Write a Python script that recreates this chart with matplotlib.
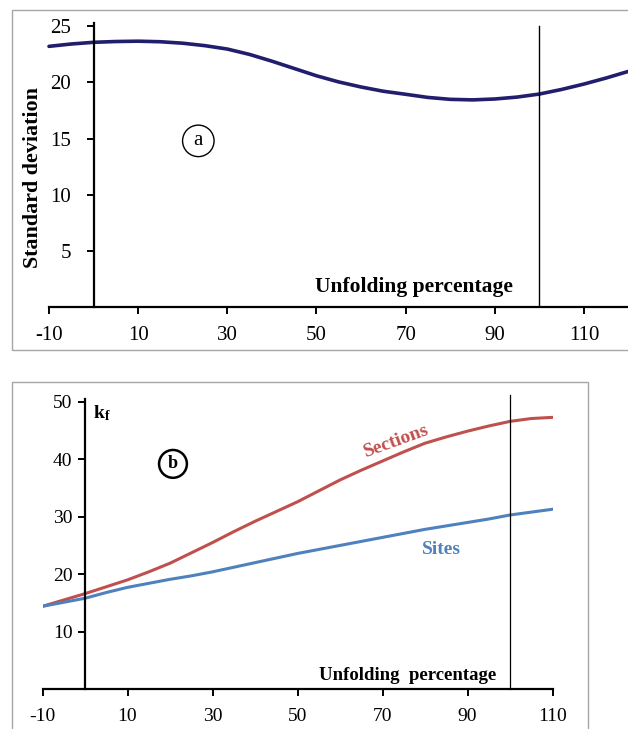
import matplotlib
matplotlib.use("Agg")
import matplotlib.pyplot as plt
from matplotlib.patches import Rectangle

plt.rcParams['font.family'] = ['Liberation Serif', 'DejaVu Serif']
plt.rcParams['mathtext.fontset'] = 'custom'
plt.rcParams['mathtext.rm'] = 'Liberation Serif'
plt.rcParams['mathtext.bf'] = 'Liberation Serif:bold'
plt.rcParams['mathtext.it'] = 'Liberation Serif:italic'
plt.rcParams['axes.unicode_minus'] = False

# ---- data panel (a) ----
unfold_a = [-10, -5, 0, 5, 10, 15, 20, 25, 30, 35, 40, 45, 50, 55, 60, 65, 70,
            75, 80, 85, 90, 95, 100, 105, 110, 115, 119.9]
std_dev = [23.22, 23.43, 23.58, 23.65, 23.68, 23.63, 23.5, 23.28, 22.98, 22.5,
           21.9, 21.25, 20.6, 20.05, 19.6, 19.22, 18.95, 18.67, 18.5, 18.45,
           18.53, 18.7, 18.97, 19.38, 19.86, 20.4, 20.98]

# ---- data panel (b) ----
unfold_b = [-10, -5, 0, 5, 10, 15, 20, 25, 30, 35, 40, 45, 50, 55, 60, 65, 70,
            75, 80, 85, 90, 95, 100, 105, 110]
kf_sections = [14.4, 15.5, 16.6, 17.8, 19.0, 20.4, 21.9, 23.7, 25.5, 27.4, 29.2,
               30.9, 32.6, 34.5, 36.4, 38.1, 39.7, 41.3, 42.8, 43.9, 44.9, 45.8,
               46.6, 47.1, 47.3]
kf_sites = [14.4, 15.1, 15.8, 16.8, 17.7, 18.4, 19.1, 19.7, 20.4, 21.2, 22.0,
            22.8, 23.6, 24.3, 25.0, 25.7, 26.4, 27.1, 27.8, 28.4, 29.0, 29.6,
            30.3, 30.8, 31.3]

xticks = [-10, 10, 30, 50, 70, 90, 110]
yticks_a = [5, 10, 15, 20, 25]
yticks_b = [10, 20, 30, 40, 50]

W, H = 628, 729
fig = plt.figure(figsize=(W / 100, H / 100), dpi=100)


def fx(px):
    return px / W


def fy(py):
    return 1 - py / H


# panel frames
fig.patches.append(Rectangle((fx(12), fy(350)), fx(640 - 12), fy(10) - fy(350),
                             transform=fig.transFigure, fill=False,
                             edgecolor='#A6A6A6', lw=1.0))
fig.patches.append(Rectangle((fx(12), fy(740)), fx(588 - 12), fy(382) - fy(740),
                             transform=fig.transFigure, fill=False,
                             edgecolor='#A6A6A6', lw=1.0))


def style_axes(ax, yticks, fs, xpad, ypad):
    for s in ['top', 'right']:
        ax.spines[s].set_visible(False)
    ax.spines['left'].set_position(('data', 0))
    ax.spines['left'].set_linewidth(1.6)
    ax.spines['bottom'].set_linewidth(1.6)
    ax.set_xticks(xticks)
    ax.set_yticks(yticks)
    ax.tick_params(axis='both', direction='out', width=1.4, length=5,
                   labelsize=fs, colors='black')
    ax.tick_params(axis='x', pad=xpad)
    ax.tick_params(axis='y', pad=ypad)
    ax.patch.set_visible(False)


# ---- panel a ----
axa = fig.add_axes([fx(49), fy(307), fx(628 - 49), fy(23) - fy(307)])
axa.set_xlim(-10, 119.9)
axa.set_ylim(0, 25.3)
style_axes(axa, yticks_a, 15, 9, 11)
axa.plot(unfold_a, std_dev, color='#221E6E', lw=2.6, solid_capstyle='round',
         clip_on=False)
axa.plot([100, 100], [0, 25.0], color='black', lw=1.0)
axa.text(71.8, 1.75, 'Unfolding percentage', fontsize=15.5, fontweight='bold',
         ha='center', va='center')
axa.text(23.5, 14.8, 'a', fontsize=15, ha='center', va='center',
         bbox=dict(boxstyle='circle,pad=0.3', fc='white', ec='black', lw=1.0))
fig.text(fx(33), fy(177), 'Standard deviation', rotation=90, fontsize=15.8,
         fontweight='bold', ha='center', va='center')

# ---- panel b ----
axb = fig.add_axes([fx(42.5), fy(689), fx(552.5 - 42.5), fy(399) - fy(689)])
axb.set_xlim(-10, 110)
axb.set_ylim(0, 50.5)
style_axes(axb, yticks_b, 14, 9, 4)
axb.plot(unfold_b, kf_sections, color='#C0504D', lw=2.2)
axb.plot(unfold_b, kf_sites, color='#4F81BD', lw=2.2)
axb.plot([100, 100], [0, 51.2], color='black', lw=0.9, clip_on=False)
axb.text(75.8, 2.4, 'Unfolding  percentage', fontsize=13.5, fontweight='bold',
         ha='center', va='center')
axb.text(20.7, 39.2, 'b', fontsize=13, fontweight='bold', ha='center',
         va='center',
         bbox=dict(boxstyle='circle,pad=0.3', fc='white', ec='black', lw=1.8))
axb.text(1.9, 48.1, r'$\mathbf{k_f}$', fontsize=14, ha='left', va='center')
axb.text(73.2, 43.1, 'Sections', fontsize=14, fontweight='bold',
         color='#C0504D', rotation=20, ha='center', va='center')
axb.text(83.8, 24.3, 'Sites', fontsize=14, fontweight='bold',
         color='#4F81BD', ha='center', va='center')

fig.savefig('out.png', dpi=100)
